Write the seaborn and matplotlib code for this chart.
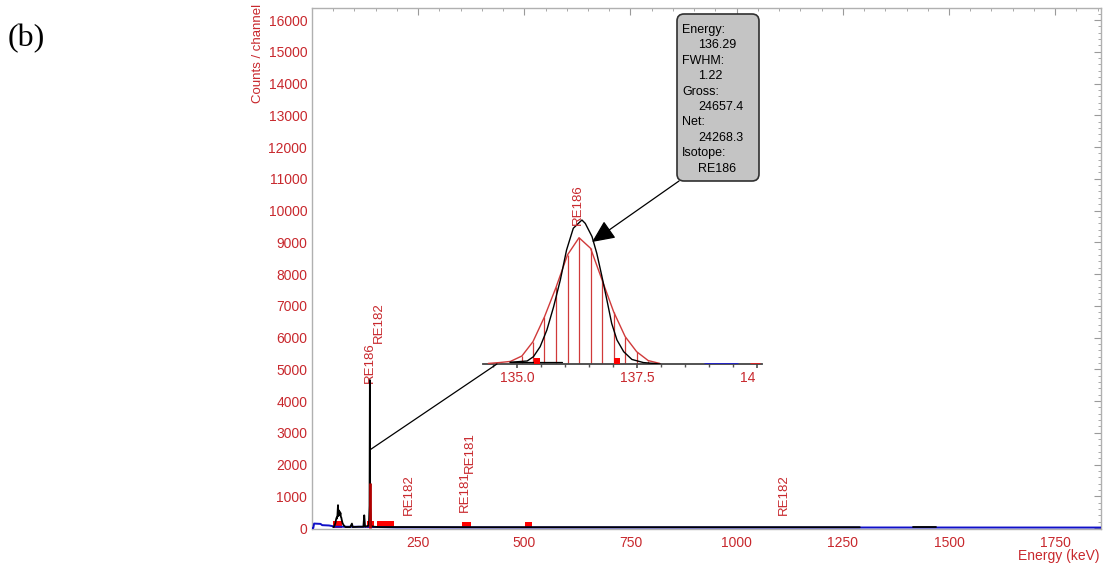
import numpy as np
import matplotlib
matplotlib.use("Agg")
import matplotlib.pyplot as plt
import seaborn as sns
from matplotlib.patches import FancyBboxPatch, ConnectionPatch
from matplotlib.transforms import Bbox, TransformedBbox, blended_transform_factory

# ---------------- spectrum data ----------------
# continuum trace (blue)
blue_e = [0, 3, 5, 20, 24, 40, 48, 52, 120, 200, 1858]
blue_c = [0, 0, 140, 130, 90, 80, 60, 40, 40, 20, 15]

# measured spectrum (black)
black_e = [50, 52, 55, 56.5, 58, 59, 60, 61.2, 62, 63, 63.8, 65, 66, 67, 68, 69,
           70, 72, 75, 79, 90, 94, 96, 110, 121, 123, 125, 130, 134, 135.5,
           136.3, 137, 139, 146, 160, 200, 400, 600, 800, 1000, 1200, 1290]
black_c = [30, 40, 150, 260, 330, 300, 420, 720, 380, 560, 450, 520, 400, 480, 350, 330,
           260, 150, 80, 30, 30, 140, 30, 40, 40, 400, 40, 60, 80, 700,
           4660, 680, 60, 40, 30, 30, 25, 25, 25, 25, 25, 25]
black2_e = [1415, 1470]
black2_c = [20, 20]

# peak channel marker
peak_e = 136.3
peak_marker_c = 1420

# regions of interest
roi_lo = [49, 129, 153, 353, 501]
roi_hi = [71, 146, 193, 374, 518]
roi_h = [220, 220, 220, 200, 200]

# nuclide identifications
lbl_e = [136.6, 156.4, 229.3, 360.0, 372.0, 1111.0]
lbl_c = [4570, 5830, 410, 500, 1730, 410]
lbl_t = ["RE186", "RE182", "RE182", "RE181", "RE181", "RE182"]

# ---------------- peak detail (136 keV) ----------------
ch_e = [134.40, 134.63, 134.86, 135.10, 135.33, 135.57, 135.81, 136.05,
        136.29, 136.53, 136.77, 137.01, 137.25, 137.49, 137.73, 137.97]
ch_c = [20, 50, 90, 280, 780, 1650, 2680, 3820,
        4420, 4050, 2940, 1830, 960, 430, 120, 20]
stem_first, stem_last = 3, 14

fit_e = [134.85, 135.21, 135.34, 135.48, 135.62, 135.76, 135.90, 136.03, 136.17,
         136.35, 136.42, 136.56, 136.66, 136.76, 136.87, 136.97, 137.08, 137.22,
         137.39, 137.63, 137.98]
fit_c = [60, 105, 255, 606, 1190, 2000, 2940, 3990, 4750,
         5040, 4920, 4460, 3870, 3115, 2240, 1420, 840, 430,
         160, 50, 0]
bkg_e = [134.85, 135.94]
bkg_c = [60, 60]

inset_roi_e = [135.42, 137.08]
inset_roi_h = [210, 210]
inset_ticks = [135.0, 137.5, 140.0]

peak_info = [("Energy:", "136.29"), ("FWHM:", "1.22"), ("Gross:", "24657.4"),
             ("Net:", "24268.3"), ("Isotope:", "RE186")]

# ---------------- styling ----------------
sns.set_theme(style="white")
plt.rcParams["font.family"] = ["Liberation Sans", "DejaVu Sans"]
RED = "#c8282d"
GRAY = "#9a9a9a"

W, H = 1103, 564
fig = plt.figure(figsize=(W / 100, H / 100), dpi=100)
ax = fig.add_axes([312 / W, (H - 529) / H, (1101 - 312) / W, (529 - 8) / H])
ax.set_facecolor("white")

# ROI blocks
ax.bar(roi_lo, roi_h, width=np.subtract(roi_hi, roi_lo), align="edge",
       color="#ff0000", linewidth=0, zorder=2)

sns.lineplot(x=blue_e, y=blue_c, ax=ax, color="#1010c8", lw=1.4,
             estimator=None, sort=False, zorder=3)
sns.lineplot(x=black_e, y=black_c, ax=ax, color="black", lw=1.3,
             estimator=None, sort=False, zorder=4)
sns.lineplot(x=black2_e, y=black2_c, ax=ax, color="black", lw=1.3,
             estimator=None, sort=False, zorder=4)
ax.vlines(peak_e, 0, peak_marker_c, color="#b00000", lw=2, zorder=5)

for e, c, t in zip(lbl_e, lbl_c, lbl_t):
    ax.text(e, c, t, rotation=90, ha="center", va="bottom", color=RED,
            fontsize=9.5)

ax.set_xlim(0, 1858)
ax.set_ylim(-31, 16378)
ax.set_xticks(np.arange(250, 1751, 250))
ax.set_xticks(np.arange(0, 1858, 50), minor=True)
ax.set_yticks(np.arange(0, 16001, 1000))
ax.set_yticks(np.arange(0, 16378, 200), minor=True)
ax.tick_params(which="both", direction="in", top=True, right=True,
               color=GRAY, labelcolor=RED, labelsize=10)
ax.tick_params(which="major", length=5, width=0.8)
ax.tick_params(which="minor", length=2.5, width=0.6)
ax.tick_params(axis="x", pad=5)
ax.tick_params(axis="y", pad=3.5)
ax.set_xlabel("")
ax.set_ylabel("")
for s in ax.spines.values():
    s.set_color("#b0b0b0")
    s.set_linewidth(1.0)

fig.text(258 / W, 1 - 4 / H, "Counts / channel", rotation=90, ha="center",
         va="top", color=RED, fontsize=9.5)
fig.text(1100 / W, 1 - 563 / H, "Energy (keV)", ha="right", va="bottom",
         color=RED, fontsize=10)
fig.text(8 / W, 1 - 39 / H, "(b)", ha="left", va="center", fontsize=23,
         family=["Liberation Serif", "DejaVu Serif"], color="black")

# ---------------- inset: expanded peak ----------------
ax_in = fig.add_axes([483 / W, (H - 364) / H, (762 - 483) / W, 149 / H])
ax_in.set_facecolor("none")
ax_in.set_xlim(134.29, 140.10)
ax_in.set_ylim(0, 5215)

ax_in.hlines(0, 138.9, 139.6, color="#2020d0", lw=2, zorder=3)
ax_in.hlines(0, 139.85, 140.05, color="#e02020", lw=2, zorder=3)
ax_in.vlines(ch_e[stem_first:stem_last + 1], 0, ch_c[stem_first:stem_last + 1],
             color="#d03a3a", lw=0.9, zorder=2)
sns.lineplot(x=ch_e, y=ch_c, ax=ax_in, color="#d03a3a", lw=1.0,
             estimator=None, sort=False, zorder=3)
sns.lineplot(x=bkg_e, y=bkg_c, ax=ax_in, color="black", lw=0.9,
             estimator=None, sort=False, zorder=3)
sns.lineplot(x=fit_e, y=fit_c, ax=ax_in, color="black", lw=1.0,
             estimator=None, sort=False, zorder=4)
ax_in.bar(inset_roi_e, inset_roi_h, width=0.13, color="#ff0000", lw=0, zorder=5)
ax_in.text(136.27, 4865, "RE186", rotation=90, ha="center", va="bottom",
           color=RED, fontsize=9.5, zorder=6)

for side in ("left", "right", "top"):
    ax_in.spines[side].set_visible(False)
ax_in.spines["bottom"].set_color("#444444")
ax_in.spines["bottom"].set_linewidth(1.3)
ax_in.set_yticks([])
ax_in.set_xticks(inset_ticks)
ax_in.set_xticks(np.arange(134.5, 140.1, 0.5), minor=True)
ax_in.tick_params(axis="x", which="both", direction="out", color="#555555",
                  labelbottom=False, bottom=True)
ax_in.tick_params(axis="x", which="major", length=3)
ax_in.tick_params(axis="x", which="minor", length=2)
ax_in.set_xlabel("")
ax_in.set_ylabel("")

# tick labels are cut off at the right edge of the expanded view
clip = TransformedBbox(Bbox.from_extents(483 / W, 0, 755 / W, 1), fig.transFigure)
trans = blended_transform_factory(ax_in.transData, ax_in.transAxes)
for v in inset_ticks:
    t = ax_in.text(v, -14 / 149, f"{v:.1f}", transform=trans, ha="center",
                   va="center", color=RED, fontsize=10, clip_on=True)
    t.set_clip_box(clip)

# connector from the main peak to the expanded view
con = ConnectionPatch(xyA=(136.3, 2460), coordsA=ax.transData,
                      xyB=(134.58, 0), coordsB=ax_in.transData,
                      color="black", lw=0.9)
fig.add_artist(con)

# ---------------- peak information box ----------------
box = FancyBboxPatch((6.77, (H - 181) / 100), 0.82, 1.67,
                     boxstyle="round,pad=0,rounding_size=0.07",
                     transform=fig.dpi_scale_trans, facecolor="#c4c4c4",
                     edgecolor="#303030", lw=1.2, zorder=10)
fig.add_artist(box)
row = 0
for name, val in peak_info:
    for txt, x in ((name, 682), (val, 698)):
        y = (H - (30 + 15.4 * row)) / 100
        fig.text(x / 100, y, txt, transform=fig.dpi_scale_trans, ha="left",
                 va="center", fontsize=9, color="black", zorder=11)
        row += 1

ax_in.annotate("", xy=(136.56, 4270), xycoords="data",
               xytext=(679, H - 181), textcoords="figure pixels",
               arrowprops=dict(arrowstyle="-|>,head_length=0.7,head_width=0.32",
                               color="black", lw=0.9, mutation_scale=20,
                               shrinkA=0, shrinkB=0),
               annotation_clip=False)

fig.savefig("out.png", dpi=100)
